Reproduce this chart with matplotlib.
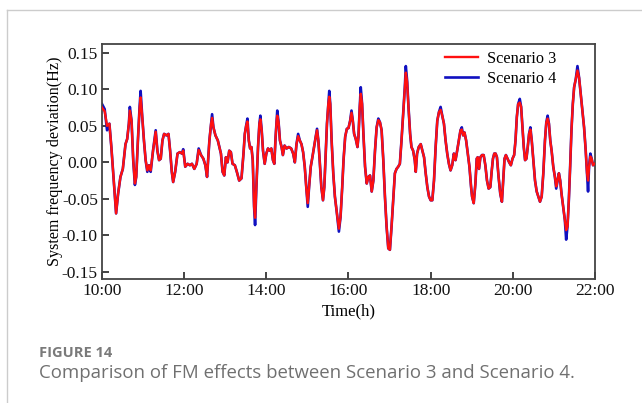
import matplotlib
matplotlib.use("Agg")
import matplotlib.pyplot as plt
from matplotlib.lines import Line2D

plt.rcParams['axes.unicode_minus'] = False

# ---------------- data ----------------
time_h = [
    10.000, 10.065, 10.123, 10.180, 10.229, 10.286, 10.343, 10.392, 10.449, 10.507,
    10.572, 10.613, 10.654, 10.678, 10.719, 10.760, 10.801, 10.833, 10.874, 10.915,
    10.940, 10.980, 11.021, 11.062, 11.103, 11.144, 11.185, 11.242, 11.307, 11.348,
    11.389, 11.430, 11.471, 11.511, 11.569, 11.618, 11.658, 11.699, 11.732, 11.781,
    11.838, 11.895, 11.944, 11.977, 12.026, 12.083, 12.141, 12.190, 12.247, 12.304,
    12.353, 12.410, 12.467, 12.516, 12.557, 12.614, 12.655, 12.680, 12.712, 12.761,
    12.819,
    12.895, 12.935, 12.976, 13.016, 13.056, 13.097, 13.137, 13.177, 13.234, 13.282,
    13.339, 13.395, 13.444, 13.476, 13.508, 13.540, 13.573, 13.605, 13.637, 13.669,
    13.702, 13.726, 13.758, 13.798, 13.831, 13.855, 13.887, 13.919, 13.960, 14.000,
    14.040, 14.081, 14.121, 14.161, 14.194, 14.226, 14.250, 14.266, 14.298, 14.331,
    14.371, 14.403, 14.444, 14.492, 14.548, 14.605, 14.653, 14.694, 14.734, 14.774,
    14.815, 14.855, 14.895, 14.935, 14.976, 15.008, 15.040, 15.081, 15.121, 15.161,
    15.202, 15.234, 15.266, 15.298, 15.339, 15.379, 15.411, 15.444, 15.476, 15.508,
    15.532, 15.556, 15.589, 15.629, 15.669, 15.718, 15.766, 15.806, 15.847, 15.879,
    15.919, 15.960,
    16.000, 16.040, 16.073, 16.105, 16.137, 16.177, 16.218, 16.242, 16.274, 16.298,
    16.331, 16.363, 16.403, 16.444, 16.484, 16.524, 16.565, 16.605, 16.645, 16.685,
    16.726, 16.766, 16.806, 16.847, 16.887, 16.927, 16.968, 17.008, 17.048, 17.089,
    17.129, 17.169, 17.210, 17.250, 17.290, 17.331, 17.371, 17.395, 17.427, 17.460,
    17.500, 17.532, 17.573, 17.613, 17.637, 17.669, 17.710, 17.758, 17.798, 17.839,
    17.879, 17.919, 17.960, 18.000, 18.040, 18.081, 18.121, 18.161, 18.202, 18.242,
    18.282, 18.323, 18.363, 18.403, 18.444, 18.484, 18.524, 18.565, 18.605, 18.645,
    18.685, 18.726, 18.758, 18.790, 18.823, 18.863, 18.903, 18.944, 18.984,
    19.008, 19.048, 19.089, 19.121, 19.145, 19.177, 19.210, 19.250, 19.290, 19.331,
    19.371, 19.411, 19.452, 19.484, 19.516, 19.548, 19.581, 19.613, 19.653, 19.694,
    19.734, 19.766, 19.798, 19.831, 19.871, 19.911, 19.952, 19.992, 20.032, 20.065,
    20.097, 20.129, 20.169, 20.202, 20.234, 20.266, 20.298, 20.331, 20.363, 20.395,
    20.427, 20.460, 20.500, 20.540, 20.581, 20.621, 20.661, 20.702, 20.742, 20.782,
    20.815, 20.847, 20.879, 20.911, 20.944, 20.984, 21.024, 21.056, 21.089, 21.121,
    21.153, 21.185, 21.226, 21.266, 21.298, 21.331, 21.363, 21.395, 21.427, 21.460,
    21.492, 21.532, 21.573, 21.613, 21.653, 21.694, 21.734, 21.774, 21.806, 21.831,
    21.855, 21.887, 21.919, 21.952, 21.992,
]

scenario3 = [
    0.075, 0.070, 0.050, 0.053, 0.020, -0.025, -0.070, -0.043, -0.020, -0.009,
    0.025, 0.032, 0.053, 0.071, 0.057, 0.003, -0.029, -0.020, 0.030, 0.074,
    0.089, 0.062, 0.030, 0.003, -0.011, -0.004, -0.011, 0.016, 0.042, 0.016,
    0.003, 0.005, 0.030, 0.039, 0.037, 0.039, 0.016, -0.013, -0.027, -0.013,
    0.012, 0.014, 0.012, 0.016, -0.006, -0.002, -0.004, -0.002, -0.009, -0.002,
    0.017, 0.010, 0.005, -0.004, -0.020, 0.030, 0.053, 0.061, 0.048, 0.037,
    0.030,
    0.012, -0.013, -0.018, 0.007, 0.000, 0.016, 0.014, -0.002, -0.004, -0.013,
    -0.025, -0.022, 0.012, 0.039, 0.050, 0.056, 0.030, 0.019, 0.021, 0.003,
    -0.061, -0.076, -0.034, 0.021, 0.053, 0.059, 0.044, 0.016, -0.002, 0.012,
    0.019, 0.016, 0.019, 0.003, -0.002, 0.035, 0.057, 0.064, 0.055, 0.030,
    0.021, 0.010, 0.023, 0.019, 0.021, 0.019, 0.012, 0.000, 0.025, 0.036,
    0.030, 0.025, 0.014, -0.006, -0.038, -0.056, -0.034, -0.006, 0.007, 0.021,
    0.035, 0.044, 0.030, 0.003, -0.034, -0.052, -0.034, 0.012, 0.053, 0.080,
    0.090, 0.080, 0.030, -0.015, -0.047, -0.070, -0.091, -0.075, -0.034, 0.003,
    0.035, 0.046,
    0.047, 0.057, 0.068, 0.057, 0.039, 0.032, 0.021, 0.035, 0.076, 0.094,
    0.080, 0.039, -0.006, -0.029, -0.020, -0.018, -0.040, -0.025, 0.016, 0.048,
    0.058, 0.055, 0.044, 0.003, -0.047, -0.088, -0.118, -0.120, -0.088, -0.052,
    -0.015, -0.009, -0.006, -0.002, 0.030, 0.066, 0.103, 0.123, 0.110, 0.076,
    0.039, 0.021, 0.016, 0.003, -0.013, 0.012, 0.021, 0.025, 0.016, 0.007,
    -0.015, -0.034, -0.047, -0.052, -0.052, -0.025, 0.021, 0.057, 0.069, 0.072,
    0.064, 0.053, 0.030, 0.012, -0.002, -0.011, -0.004, 0.012, 0.003, 0.016,
    0.030, 0.044, 0.045, 0.037, 0.041, 0.030, 0.012, -0.006, -0.034,
    -0.047, -0.056, -0.029, 0.005, 0.007, -0.009, 0.007, 0.010, 0.010, -0.004,
    -0.025, -0.036, -0.034, -0.013, 0.005, 0.012, 0.012, 0.007, -0.020, -0.043,
    -0.054, -0.025, 0.005, 0.010, 0.005, 0.000, -0.004, 0.005, 0.010, 0.030,
    0.062, 0.080, 0.082, 0.076, 0.048, 0.021, 0.003, 0.005, 0.021, 0.039,
    0.045, 0.030, 0.003, -0.025, -0.040, -0.047, -0.054, -0.047, -0.015, 0.030,
    0.055, 0.060, 0.053, 0.030, 0.016, -0.006, -0.020, -0.033, -0.025, -0.015,
    -0.025, -0.043, -0.061, -0.079, -0.093, -0.088, -0.052, -0.006, 0.044, 0.080,
    0.103, 0.114, 0.126, 0.116, 0.094, 0.071, 0.048, 0.016, -0.015, -0.025,
    -0.006, 0.008, 0.005, -0.004, -0.002,
]

scenario4 = [
    0.080, 0.073, 0.044, 0.053, 0.020, -0.025, -0.070, -0.043, -0.020, -0.009,
    0.025, 0.032, 0.053, 0.076, 0.057, 0.003, -0.031, -0.020, 0.030, 0.076,
    0.098, 0.062, 0.030, 0.003, -0.013, -0.004, -0.013, 0.016, 0.044, 0.016,
    0.003, 0.005, 0.030, 0.039, 0.037, 0.039, 0.016, -0.013, -0.027, -0.013,
    0.012, 0.014, 0.012, 0.018, -0.006, -0.002, -0.004, -0.002, -0.009, -0.002,
    0.019, 0.010, 0.005, -0.004, -0.020, 0.030, 0.053, 0.066, 0.048, 0.037,
    0.030,
    0.012, -0.013, -0.018, 0.007, 0.000, 0.016, 0.014, -0.002, -0.004, -0.013,
    -0.025, -0.022, 0.012, 0.039, 0.050, 0.060, 0.030, 0.019, 0.021, 0.003,
    -0.061, -0.086, -0.034, 0.021, 0.053, 0.064, 0.044, 0.016, -0.002, 0.012,
    0.019, 0.016, 0.019, 0.003, -0.002, 0.035, 0.057, 0.071, 0.055, 0.030,
    0.021, 0.010, 0.023, 0.019, 0.021, 0.019, 0.012, 0.000, 0.025, 0.039,
    0.030, 0.025, 0.014, -0.006, -0.038, -0.061, -0.034, -0.006, 0.007, 0.021,
    0.035, 0.046, 0.030, 0.003, -0.034, -0.052, -0.034, 0.012, 0.053, 0.080,
    0.098, 0.080, 0.030, -0.015, -0.047, -0.070, -0.095, -0.075, -0.034, 0.003,
    0.035, 0.046,
    0.047, 0.057, 0.071, 0.057, 0.039, 0.032, 0.021, 0.035, 0.076, 0.103,
    0.080, 0.039, -0.006, -0.029, -0.020, -0.018, -0.040, -0.025, 0.016, 0.048,
    0.060, 0.055, 0.044, 0.003, -0.047, -0.088, -0.118, -0.120, -0.088, -0.052,
    -0.015, -0.009, -0.006, -0.002, 0.030, 0.066, 0.103, 0.132, 0.112, 0.076,
    0.039, 0.021, 0.016, 0.003, -0.013, 0.012, 0.021, 0.025, 0.016, 0.007,
    -0.015, -0.034, -0.047, -0.052, -0.052, -0.025, 0.021, 0.057, 0.069, 0.076,
    0.064, 0.053, 0.030, 0.012, -0.002, -0.011, -0.004, 0.012, 0.003, 0.016,
    0.030, 0.044, 0.048, 0.037, 0.041, 0.030, 0.012, -0.006, -0.034,
    -0.047, -0.056, -0.029, 0.005, 0.007, -0.009, 0.007, 0.010, 0.010, -0.004,
    -0.025, -0.036, -0.034, -0.013, 0.005, 0.012, 0.012, 0.007, -0.020, -0.043,
    -0.054, -0.025, 0.005, 0.010, 0.005, 0.000, -0.004, 0.005, 0.010, 0.030,
    0.062, 0.080, 0.087, 0.076, 0.048, 0.021, 0.003, 0.005, 0.021, 0.039,
    0.048, 0.030, 0.003, -0.025, -0.040, -0.047, -0.054, -0.047, -0.015, 0.030,
    0.055, 0.064, 0.053, 0.030, 0.016, -0.006, -0.020, -0.036, -0.025, -0.015,
    -0.025, -0.043, -0.061, -0.079, -0.106, -0.088, -0.052, -0.006, 0.044, 0.080,
    0.103, 0.114, 0.132, 0.116, 0.094, 0.071, 0.048, 0.016, -0.015, -0.040,
    -0.006, 0.012, 0.005, -0.004, -0.002,
]

x_ticks = [10, 12, 14, 16, 18, 20, 22]
x_tick_labels = ["10:00", "12:00", "14:00", "16:00", "18:00", "20:00", "22:00"]
y_ticks = [-0.15, -0.10, -0.05, 0.00, 0.05, 0.10, 0.15]
y_tick_labels = ["-0.15", "-0.10", "-0.05", "0.00", "0.05", "0.10", "0.15"]

# ---------------- figure ----------------
W, H = 642, 403
fig = plt.figure(figsize=(W / 100, H / 100), dpi=100)
fig.patch.set_facecolor("white")

# page frame lines (top and left)
fig.add_artist(Line2D([7 / W, 1.0], [1 - 10 / H, 1 - 10 / H], color="#cccccc", lw=1.0))
fig.add_artist(Line2D([7 / W, 7 / W], [0.0, 1 - 10 / H], color="#cccccc", lw=1.0))

ax = fig.add_axes([102 / W, 1 - 279 / H, (595 - 102) / W, (279 - 44) / H])

ax.plot(time_h, scenario4, color="#1010c0", lw=1.9, label="Scenario 4", zorder=2)
ax.plot(time_h, scenario3, color="#ff1010", lw=1.7, label="Scenario 3", zorder=3)

ax.set_xlim(10, 22)
ax.set_ylim(-0.160, 0.1623)

serif = "Liberation Serif"
ax.set_xticks(x_ticks)
ax.set_xticklabels(x_tick_labels, fontfamily=serif, fontsize=12.5)
ax.set_yticks(y_ticks)
ax.set_yticklabels(y_tick_labels, fontfamily=serif, fontsize=12.5)
ax.tick_params(axis="both", direction="in", length=5, width=1.2, colors="#222222",
               pad=3, top=False, right=False)
ax.tick_params(axis="x", pad=3)
for lab in ax.get_xticklabels() + ax.get_yticklabels():
    lab.set_color("#111111")

for sp in ax.spines.values():
    sp.set_color("#444444")
    sp.set_linewidth(1.3)

ax.set_xlabel("Time(h)", fontfamily=serif, fontsize=12, labelpad=3)
ax.set_ylabel("System frequency deviation(Hz)", fontfamily=serif, fontsize=11.6, labelpad=-0.5)

handles, labels = ax.get_legend_handles_labels()
leg = ax.legend([handles[1], handles[0]], [labels[1], labels[0]],
                loc="upper left", frameon=False, prop={"family": serif, "size": 11.7},
                handlelength=2.05, handletextpad=0.55, labelspacing=0.22,
                borderpad=0.0, borderaxespad=0.0,
                bbox_to_anchor=((445 - 102) / 493, (279 - 51) / 235))

# caption
fig.text(39 / W, 1 - 353 / H, "FIGURE 14", fontfamily="Open Sans", fontweight="bold",
         fontsize=10.5, color="#7a7a7a", va="center", ha="left")
fig.text(39 / W, 1 - 373 / H, "Comparison of FM effects between Scenario 3 and Scenario 4.",
         fontfamily="Open Sans", fontsize=13.4, color="#707070", va="center", ha="left")

fig.savefig("out.png", dpi=100)
